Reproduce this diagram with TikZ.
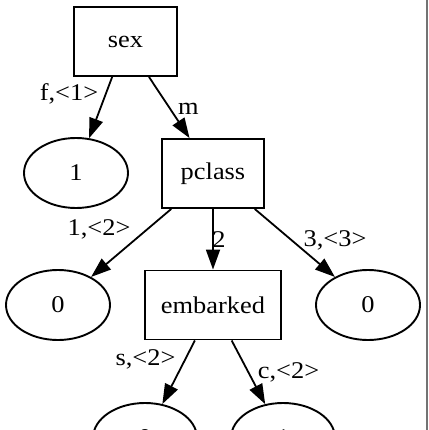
\documentclass[tikz,border=0pt]{standalone}
\usepackage{fontspec}
\setmainfont{Liberation Serif}[FakeStretch=1.1]
\usetikzlibrary{arrows.meta,shapes.geometric}
\begin{document}
\begin{tikzpicture}[x=1pt,y=-1pt,
  every node/.style={font=\fontsize{24}{28}\selectfont, inner sep=0pt},
  box/.style={draw, line width=1.9pt, rectangle, minimum height=69pt},
  leaf/.style={draw, line width=1.9pt, ellipse, minimum width=104pt, minimum height=70pt},
  conn/.style={line width=1.8pt, -{Triangle[length=20pt,width=14pt]}},
  lbl/.style={anchor=base}]
\useasboundingbox (0,0) rectangle (428,430);
\clip (0,0) rectangle (428,430);
\fill[white] (0,0) rectangle (428,430);
\draw[black!55, line width=2pt] (427,0) -- (427,430);

\node[box, minimum width=103pt] (sex) at (125.5,41.5) {sex};
\node[leaf] (one) at (76,173) {1};
\node[box, minimum width=102pt] (pclass) at (213,173.5) {pclass};
\node[leaf] (zl) at (58,305) {0};
\node[box, minimum width=136pt] (emb) at (213,305) {embarked};
\node[leaf] (zr) at (368,305) {0};
\node[leaf] (bl) at (145,438) {0};
\node[leaf] (br) at (283,438) {1};

\draw[conn] (sex) -- (one);
\draw[conn] (sex) -- (pclass);
\draw[conn] (pclass) -- (zl);
\draw[conn] (pclass) -- (emb);
\draw[conn] (pclass) -- (zr);
\draw[conn] (emb) -- (bl);
\draw[conn] (emb) -- (br);

\node[lbl] (l1) at (69,101) {f,<1>};
\node[lbl] (l2) at (188.5,115) {m};
\node[lbl] (l3) at (99,235.5) {1,<2>};
\node[lbl] (l4) at (219,247) {2};
\node[lbl] (l5) at (335,246.5) {3,<3>};
\node[lbl] (l6) at (145.5,365) {s,<2>};
\node[lbl] (l7) at (288.5,378) {c,<2>};
\end{tikzpicture}
\end{document}
